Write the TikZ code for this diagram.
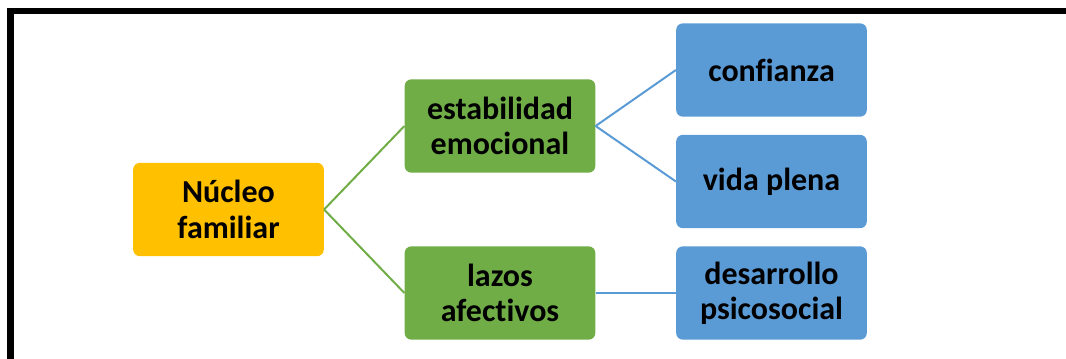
\documentclass[tikz,border=0pt]{standalone}
\usepackage{fontspec}
\setmainfont[Ligatures=NoCommon]{Carlito}
\definecolor{cyellow}{HTML}{FFC000}
\definecolor{cgreen}{HTML}{70AD47}
\definecolor{cblue}{HTML}{5B9BD5}
\begin{document}
\begin{tikzpicture}[x=0.75pt,y=-0.75pt,
  box/.style={rounded corners=5pt, minimum width=143pt, minimum height=70pt, inner sep=0pt,
    align=center, font=\bfseries\fontsize{24}{26.5}\selectfont, text=black},
  ybox/.style={box, fill=cyellow},
  gbox/.style={box, fill=cgreen},
  bbox/.style={box, fill=cblue},
  gline/.style={draw=cgreen, line width=1.5pt},
  bline/.style={draw=cblue, line width=1.5pt}]
\useasboundingbox (0,0) rectangle (1066,358);
\draw[line width=4.8pt] (10.5,365) -- (10.5,11) -- (1075,11);
\node[ybox] (n) at (228.5,209.5) {Núcleo\\familiar};
\node[gbox] (e) at (500,126) {estabilidad\\emocional};
\node[gbox] (l) at (500,293) {lazos\\afectivos};
\node[bbox] (c) at (771.5,70) {confianza};
\node[bbox] (v) at (771.5,181.5) {vida plena};
\node[bbox] (d) at (771.5,293) {desarrollo\\psicosocial};
\draw[gline] (n.east) -- (e.west);
\draw[gline] (n.east) -- (l.west);
\draw[bline] (e.east) -- (c.west);
\draw[bline] (e.east) -- (v.west);
\draw[bline] (l.east) -- (d.west);
\end{tikzpicture}
\end{document}
